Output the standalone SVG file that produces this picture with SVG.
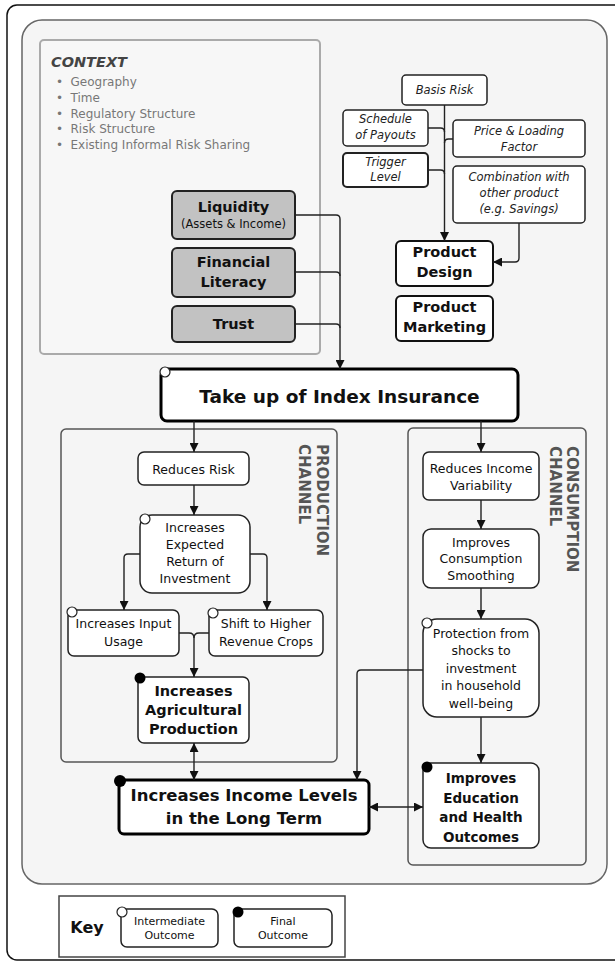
<svg xmlns="http://www.w3.org/2000/svg" width="615" height="962" viewBox="0 0 615 962">
<defs>
<marker id="ah" viewBox="0 0 10 10" refX="10" refY="5" markerWidth="10" markerHeight="9" markerUnits="userSpaceOnUse" orient="auto-start-reverse"><path d="M0,0 L10,5 L0,10 Z" fill="#111"/></marker>
<style>
text{font-family:"DejaVu Sans","Liberation Sans",sans-serif;fill:#111;text-anchor:middle}
.n{fill:#fff;stroke:#222;stroke-width:1.5}
.nb{fill:#fff;stroke:#111;stroke-width:2}
.g{fill:#c2c2c2;stroke:#222;stroke-width:2}
.t{font-size:12.5px}
.b{font-size:14.5px;font-weight:bold}
.i{font-size:11.5px;font-style:italic;fill:#222}
.c{stroke:#222;stroke-width:1.4;fill:none}
.ca{stroke:#222;stroke-width:1.4;fill:none;marker-end:url(#ah)}
.oc{fill:#fff;stroke:#222;stroke-width:1.2}
.fc{fill:#000}
.ctx{font-size:12px;fill:#777;text-anchor:start}
.ch{font-size:15px;font-weight:bold;fill:#555;text-anchor:start}
.k{font-size:11px}
</style>
</defs>
<rect width="615" height="962" fill="#fff"/>
<rect x="7" y="5" width="650" height="955" rx="10" fill="#fff" stroke="#111" stroke-width="1.5"/>
<rect id="panel" x="22" y="20" width="585" height="864" rx="20" fill="#f5f5f5" stroke="#666" stroke-width="1.5"/>

<g id="context">
<rect x="40" y="40" width="280" height="314" rx="4" fill="#f7f7f7" stroke="#aaa" stroke-width="2"/>
<text x="51" y="66.5" style="font-size:14.5px;font-weight:bold;font-style:italic;fill:#444;text-anchor:start">CONTEXT</text>
<text class="ctx" x="56" y="86">•</text><text class="ctx" x="70.5" y="86">Geography</text>
<text class="ctx" x="56" y="102">•</text><text class="ctx" x="70.5" y="102">Time</text>
<text class="ctx" x="56" y="117.5">•</text><text class="ctx" x="70.5" y="117.5">Regulatory Structure</text>
<text class="ctx" x="56" y="133">•</text><text class="ctx" x="70.5" y="133">Risk Structure</text>
<text class="ctx" x="56" y="149">•</text><text class="ctx" x="70.5" y="149">Existing Informal Risk Sharing</text>
</g>

<g id="liquidity"><rect class="g" x="172" y="191" width="123" height="48" rx="5"/><text class="b" x="233.5" y="212">Liquidity</text><text x="233.5" y="228" style="font-size:11.5px">(Assets &amp; Income)</text></g>
<g id="literacy"><rect class="g" x="172" y="248" width="123" height="49" rx="5"/><text class="b" x="233.5" y="267">Financial</text><text class="b" x="233.5" y="287">Literacy</text></g>
<g id="trust"><rect class="g" x="172" y="306" width="123" height="36" rx="5"/><text class="b" x="233.5" y="329">Trust</text></g>

<g id="basis"><rect class="n" x="402" y="75" width="85" height="30" rx="4"/><text class="i" x="444.5" y="94">Basis Risk</text></g>
<g id="schedule"><rect class="n" x="343" y="110" width="85" height="36" rx="4"/><text class="i" x="385.5" y="123">Schedule</text><text class="i" x="385.5" y="139">of Payouts</text></g>
<g id="trigger"><rect class="n" x="343" y="153" width="85" height="34" rx="4" style="stroke-width:2"/><text class="i" x="385.5" y="165.5">Trigger</text><text class="i" x="385.5" y="181">Level</text></g>
<g id="price"><rect class="n" x="453" y="120" width="132" height="37" rx="4"/><text class="i" x="519" y="135">Price &amp; Loading</text><text class="i" x="519" y="151">Factor</text></g>
<g id="combination"><rect class="n" x="453" y="166" width="132" height="57" rx="4"/><text class="i" x="519" y="181">Combination with</text><text class="i" x="519" y="197">other product</text><text class="i" x="519" y="213">(e.g. Savings)</text></g>
<g id="design"><rect class="nb" x="396" y="241" width="97" height="45" rx="5"/><text class="b" x="444.5" y="257">Product</text><text class="b" x="444.5" y="277">Design</text></g>
<g id="marketing"><rect class="nb" x="396" y="296" width="97" height="45" rx="5"/><text class="b" x="444.5" y="312">Product</text><text class="b" x="444.5" y="332">Marketing</text></g>

<g id="takeup"><rect x="161" y="369" width="357" height="52" rx="6" fill="#fff" stroke="#000" stroke-width="3"/><text x="339.5" y="402.5" style="font-size:18.5px;font-weight:bold">Take up of Index Insurance</text><circle class="oc" cx="165" cy="372" r="5"/></g>

<g id="production-channel">
<rect x="61" y="429" width="276" height="333" rx="5" fill="none" stroke="#555" stroke-width="1.5"/>
<text class="ch" transform="translate(316.5,444) rotate(90)">PRODUCTION</text>
<text class="ch" transform="translate(299,444) rotate(90)">CHANNEL</text>
</g>
<g id="consumption-channel">
<rect x="408" y="428" width="178" height="437" rx="5" fill="none" stroke="#555" stroke-width="1.5"/>
<text class="ch" transform="translate(567,446) rotate(90)">CONSUMPTION</text>
<text class="ch" transform="translate(549.5,446) rotate(90)">CHANNEL</text>
</g>

<g id="reduces-risk"><rect class="n" x="138" y="452" width="111" height="33" rx="6"/><text class="t" x="193.5" y="473.5">Reduces Risk</text></g>
<g id="expected-return"><rect class="n" x="140" y="515" width="110" height="78" rx="12"/><text class="t" x="195" y="532">Increases</text><text class="t" x="195" y="549">Expected</text><text class="t" x="195" y="566">Return of</text><text class="t" x="195" y="583">Investment</text><circle class="oc" cx="145" cy="519" r="5"/></g>
<g id="input-usage"><rect class="n" x="68" y="610" width="111" height="46" rx="6"/><text class="t" x="123.5" y="627.5">Increases Input</text><text class="t" x="123.5" y="645.5">Usage</text><circle class="oc" cx="72" cy="612" r="5"/></g>
<g id="shift-crops"><rect class="n" x="209" y="610" width="114" height="46" rx="6"/><text class="t" x="266" y="627.5">Shift to Higher</text><text class="t" x="266" y="645.5">Revenue Crops</text><circle class="oc" cx="213" cy="613" r="5"/></g>
<g id="agri-production"><rect class="n" x="138" y="677" width="111" height="66" rx="6"/><text class="b" x="193.5" y="696">Increases</text><text class="b" x="193.5" y="715">Agricultural</text><text class="b" x="193.5" y="734">Production</text><circle class="fc" cx="140" cy="678" r="5.5"/></g>

<g id="income-var"><rect class="n" x="423" y="452" width="116" height="48" rx="6"/><text class="t" x="481" y="472.5">Reduces Income</text><text class="t" x="481" y="489.5">Variability</text></g>
<g id="smoothing"><rect class="n" x="423" y="529" width="116" height="59" rx="8"/><text class="t" x="481" y="546.5">Improves</text><text class="t" x="481" y="563">Consumption</text><text class="t" x="481" y="580">Smoothing</text></g>
<g id="protection"><rect class="n" x="423" y="619" width="116" height="98" rx="14"/><text class="t" x="481" y="637.5">Protection from</text><text class="t" x="481" y="655">shocks to</text><text class="t" x="481" y="672.5">investment</text><text class="t" x="481" y="690">in household</text><text class="t" x="481" y="707.5">well-being</text><circle class="oc" cx="427" cy="623" r="5"/></g>
<g id="education"><rect class="n" x="423" y="763" width="116" height="85" rx="8"/><text class="b" x="481" y="783" style="font-size:13.5px">Improves</text><text class="b" x="481" y="802.5" style="font-size:13.5px">Education</text><text class="b" x="481" y="822" style="font-size:13.5px">and Health</text><text class="b" x="481" y="841.5" style="font-size:13.5px">Outcomes</text><circle class="fc" cx="427" cy="767" r="5.5"/></g>

<g id="income"><rect x="119" y="780" width="250" height="54" rx="5" fill="#fff" stroke="#000" stroke-width="3"/><text x="244" y="801" style="font-size:16.5px;font-weight:bold">Increases Income Levels</text><text x="244" y="823.5" style="font-size:16.5px;font-weight:bold">in the Long Term</text><circle class="fc" cx="120" cy="781" r="6"/></g>

<g id="connectors">
<path class="c" d="M295,215 H336 Q340,215 340,219 V300"/>
<path class="c" d="M295,272 H336 Q340,272 340,276"/>
<path class="c" d="M295,324 H336 Q340,324 340,328"/>
<path class="ca" d="M340,300 V369"/>
<path class="ca" d="M444.5,105 V241"/>
<path class="c" d="M428,128 H440.5 Q444.5,128 444.5,132"/>
<path class="c" d="M428,170 H440.5 Q444.5,170 444.5,174"/>
<path class="c" d="M453,139 H448.5 Q444.5,139 444.5,143"/>
<path class="ca" d="M519,223 V258 Q519,262 515,262 H493"/>
<path class="ca" d="M194,421 V452"/>
<path class="ca" d="M481,421 V452"/>
<path class="ca" d="M194,485 V515"/>
<path class="ca" d="M140,554 H128 Q124,554 124,558 V610"/>
<path class="ca" d="M250,554 H263 Q267,554 267,558 V610"/>
<path class="c" d="M179,633 H189 Q194,633 194,638"/>
<path class="c" d="M209,633 H199 Q194,633 194,638"/>
<path class="ca" d="M194,638 V677"/>
<path class="ca" d="M194,743 V780" style="marker-start:url(#ah)"/>
<path class="ca" d="M481,500 V529"/>
<path class="ca" d="M481,588 V619"/>
<path class="ca" d="M481,717 V763"/>
<path class="ca" d="M423,670 H361 Q357,670 357,674 V780"/>
<path class="ca" d="M369,807 H423" style="marker-start:url(#ah)"/>
</g>

<g id="key">
<rect x="59" y="896" width="286" height="61" fill="#fff" stroke="#444" stroke-width="1.5"/>
<text x="87" y="933" style="font-size:16px;font-weight:bold">Key</text>
<g id="key-intermediate"><rect class="n" x="121" y="909" width="97" height="38" rx="6"/><text class="k" x="169.5" y="925">Intermediate</text><text class="k" x="169.5" y="939">Outcome</text><circle class="oc" cx="122" cy="912" r="5"/></g>
<g id="key-final"><rect class="n" x="234" y="909" width="98" height="38" rx="6"/><text class="k" x="283" y="925">Final</text><text class="k" x="283" y="939">Outcome</text><circle class="fc" cx="238" cy="912" r="5.5"/></g>
</g>
</svg>
